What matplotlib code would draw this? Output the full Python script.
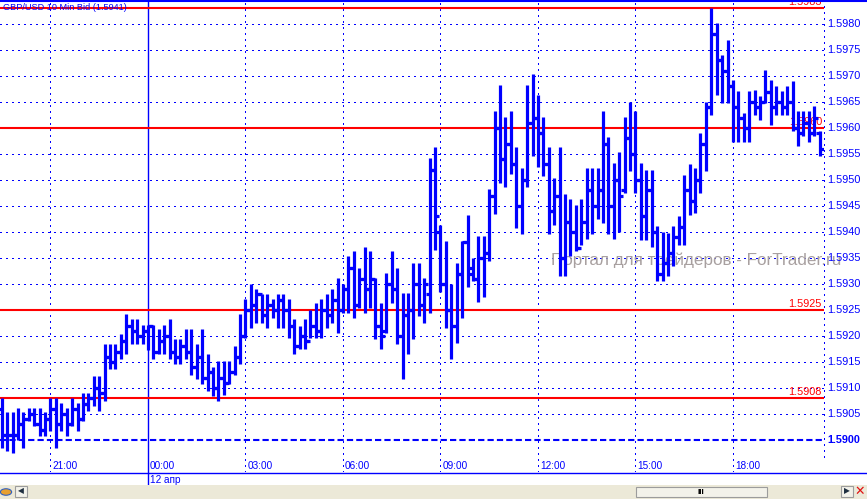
import numpy as np
import matplotlib
matplotlib.use("Agg")
import matplotlib.pyplot as plt
from matplotlib.lines import Line2D
from matplotlib.patches import Rectangle, Circle

plt.rcParams['font.family'] = ['Liberation Sans', 'DejaVu Sans']

# GBP/USD 10 min bars, 19:30 (11 apr) .. 20:40 (12 apr)
# values are pips above 1.5900
base = 1.5900
high_pips = [
    8.1, 5.3, 5.3, 6.2, 5.3, 6.2, 6.2, 6.2, 5.3, 8.1,
    8.1, 7.2, 6.2, 8.1, 7.2, 9.1, 9.1, 12.3, 12.3, 18.4,
    18.4, 18.4, 20.3, 24.2, 23.2, 23.2, 22.2, 22.2, 22.2, 21.3,
    22.2, 23.2, 19.4, 19.4, 21.3, 21.3, 18.4, 21.3, 16.5, 14.0,
    15.2, 15.2, 15.2, 18.1, 24.2, 27.2, 30.1, 29.1, 28.1, 28.1,
    27.2, 28.1, 28.1, 27.2, 23.2, 21.9, 23.2, 25.1, 26.3, 27.2,
    28.1, 29.1, 31.2, 30.0, 35.3, 36.3, 33.1, 37.2, 36.3, 31.2,
    26.3, 32.2, 36.3, 33.1, 28.2, 28.2, 34.1, 34.1, 31.2, 54.2,
    56.3, 41.4, 38.3, 30.1, 34.1, 38.3, 43.3, 35.1, 39.3, 39.3,
    48.2, 63.2, 68.3, 62.2, 63.2, 56.3, 52.3, 68.3, 70.3, 66.4,
    62.2, 56.3, 50.3, 56.3, 47.3, 46.3, 45.2, 46.3, 52.3, 52.3,
    52.3, 63.2, 58.2, 53.3, 55.3, 62.2, 65.1, 63.2, 53.3, 52.0,
    52.0, 41.1, 40.1, 39.8, 41.1, 43.0, 51.0, 53.0, 52.3, 59.0,
    65.1, 83.1, 80.2, 74.1, 77.0, 69.3, 67.1, 62.9, 67.1, 67.4,
    66.1, 71.2, 69.3, 68.0, 67.1, 68.0, 69.0, 63.2, 63.2, 63.2,
    64.2, 59.4,
]
low_pips = [
    -1.5, -2.1, -2.4, 0.1, -1.5, 3.7, 2.7, 0.8, 0.8, 1.7,
    -1.5, 1.7, 0.8, 2.7, 1.7, 3.7, 5.6, 6.5, 5.6, 7.5,
    13.6, 13.6, 15.5, 16.5, 18.4, 18.4, 18.4, 17.4, 15.5, 16.5,
    16.5, 15.5, 14.6, 14.6, 15.5, 12.6, 11.7, 10.7, 9.4, 8.5,
    7.6, 8.6, 10.7, 12.6, 14.6, 19.7, 21.6, 22.6, 22.6, 21.6,
    23.5, 21.6, 21.6, 19.7, 16.6, 17.6, 17.6, 19.7, 19.7, 19.7,
    21.6, 22.6, 20.6, 24.5, 24.5, 23.5, 25.4, 24.5, 25.4, 19.4,
    17.6, 20.6, 26.4, 18.4, 11.7, 16.6, 19.5, 23.9, 22.6, 24.5,
    36.6, 28.5, 21.6, 15.6, 18.6, 23.5, 29.5, 30.6, 26.5, 27.6,
    34.4, 43.4, 49.5, 48.6, 51.1, 40.7, 39.6, 48.6, 54.7, 52.5,
    50.7, 39.6, 41.4, 31.5, 31.5, 35.4, 36.4, 37.6, 38.6, 39.6,
    42.6, 41.8, 39.6, 38.6, 40.0, 47.5, 51.7, 47.5, 38.5, 38.5,
    37.2, 30.5, 30.5, 31.5, 33.4, 37.6, 37.6, 43.3, 43.7, 47.5,
    51.7, 62.6, 66.4, 64.8, 64.8, 57.4, 57.4, 57.4, 57.4, 62.6,
    61.6, 64.8, 60.6, 62.6, 62.6, 62.6, 59.4, 56.5, 58.4, 57.4,
    58.4, 54.6,
]
open_pips = [
    6, 1, 1, 1, 3, 4, 5, 3, 2, 4,
    6, 3, 5, 3, 6, 4, 7, 8, 10, 9,
    16, 15, 17, 19, 22, 21, 20, 21, 22, 17,
    19, 20, 17, 16, 18, 17, 14, 16, 12, 13,
    10, 12, 11, 13, 16, 20, 25, 26, 28, 24,
    26, 25, 27, 25, 22, 18, 20, 19, 22, 21,
    25, 24, 27, 25, 29, 33, 26, 31, 29, 31,
    22, 21, 30, 29, 20, 24, 25, 30, 26, 28,
    52, 40, 30, 25, 22, 32, 38, 33, 31, 35,
    36, 47, 60, 54, 57, 53, 45, 50, 61, 62,
    59, 53, 44, 47, 35, 42, 40, 37, 42, 48,
    45, 48, 57, 45, 50, 48, 58, 55, 50, 43,
    48, 40, 32, 34, 36, 39, 41, 48, 46, 50,
    57, 64, 78, 73, 71, 68, 64, 62, 60, 65,
    64, 65, 67, 64, 65, 64, 65, 60, 59, 61,
    59, 59,
]
close_pips = [
    1, 1, 1, 3, 4, 5, 3, 2, 4, 6,
    3, 5, 3, 6, 4, 7, 8, 10, 9, 16,
    15, 17, 19, 22, 21, 20, 21, 22, 17, 19,
    20, 17, 16, 18, 17, 14, 16, 12, 13, 10,
    12, 11, 13, 16, 20, 25, 26, 28, 24, 26,
    25, 27, 25, 22, 18, 20, 19, 22, 21, 25,
    24, 27, 25, 29, 33, 26, 31, 29, 31, 22,
    20, 30, 29, 20, 24, 25, 30, 26, 30, 52,
    43, 30, 25, 22, 32, 38, 32, 31, 35, 36,
    47, 60, 54, 57, 53, 45, 50, 61, 62, 59,
    53, 44, 47, 35, 42, 40, 37, 42, 48, 45,
    48, 57, 45, 50, 47, 58, 55, 50, 43, 48,
    40, 32, 34, 36, 39, 41, 48, 46, 50, 57,
    64, 78, 73, 71, 68, 64, 62, 60, 65, 64,
    65, 67, 64, 65, 64, 65, 60, 59, 61, 59,
    62, 56,
]

time_tick_bars = [9, 27, 45, 63, 81, 99, 117, 135]
time_tick_labels = ["21:00", "00:00", "03:00", "06:00", "09:00", "12:00", "15:00", "18:00"]
day_bar = 27
day_label = "12 апр"

price_ticks = [1.5905, 1.5910, 1.5915, 1.5920, 1.5925, 1.5930, 1.5935, 1.5940,
               1.5945, 1.5950, 1.5955, 1.5960, 1.5965, 1.5970, 1.5975, 1.5980]
red_levels = [1.5983, 1.5960, 1.5925, 1.5908]
title = "GBP/USD 10 Min Bid (1.5941)"
watermark = "Портал для трейдеров - ForTrader.ru"

hi = base + np.array(high_pips) / 10000
lo = base + np.array(low_pips) / 10000
op = base + np.array(open_pips) / 10000
cl = base + np.array(close_pips) / 10000
x = np.arange(len(hi))

BLUE = '#0000ff'
DOTS = (0, (1, 4))
W, H = 867, 499
fig = plt.figure(figsize=(W / 100, H / 100), dpi=100)
ax = fig.add_axes([0, (H - 472) / H, 824 / W, 472 / H])
ax.set_xlim(-0.32, 151.8)
ax.set_ylim(1.589385, 1.598462)
ax.axis('off')

# grid
for p in price_ticks:
    ax.axhline(p, color=BLUE, lw=0.8, ls=DOTS, zorder=1, antialiased=False)
    ax.text(1.004, p, f"{p:.4f}", transform=ax.get_yaxis_transform(),
            ha='left', va='center', fontsize=7.8, color=BLUE, clip_on=False)
ax.axhline(base, color=BLUE, lw=1.5, ls=(0, (3, 1.5)), zorder=1)
ax.text(1.004, base, f"{base:.4f}", transform=ax.get_yaxis_transform(),
        ha='left', va='center', fontsize=7.8, color=BLUE, fontweight='bold', clip_on=False)

for b, lab in zip(time_tick_bars, time_tick_labels):
    if b != day_bar:
        ax.axvline(b, color=BLUE, lw=0.8, ls=DOTS, zorder=1, antialiased=False)
    ax.text(b + 0.35, 1.58950, lab, ha='left', va='center', fontsize=7.2, color=BLUE)

# day separator goes down past the axis
ax.plot([day_bar, day_bar], [1, -13 / 472], transform=ax.get_xaxis_transform(),
        color=BLUE, lw=1, clip_on=False, zorder=2)
ax.text(day_bar + 0.35, -8 / 472, day_label, transform=ax.get_xaxis_transform(),
        ha='left', va='center', fontsize=7.2, color=BLUE, clip_on=False)

# right border (dotted)
ax.plot([1, 1], [1, (472 - 462) / 472], transform=ax.transAxes, color=BLUE,
        lw=0.8, ls=DOTS, clip_on=False, antialiased=False)

ax.text(551 / 824, 1 - 260 / 472, watermark, transform=ax.transAxes, ha='left',
        va='center', fontsize=12.3, color='#a8a0a0', zorder=1.5, clip_on=False)

# red levels
for lvl in red_levels:
    ax.axhline(lvl, color='#ff0000', lw=1.5, zorder=3)
    ax.text(822 / 824, lvl + 0.00002, f"{lvl:.4f}", transform=ax.get_yaxis_transform(),
            ha='right', va='bottom', fontsize=7.8, color='#ff0000', zorder=3, clip_on=False)

# ohlc bars
ax.vlines(x, lo, hi, colors=BLUE, lw=2.3, zorder=4)
ax.hlines(op, x - 0.75, x, colors=BLUE, lw=2.3, zorder=4)
ax.hlines(cl, x, x + 0.75, colors=BLUE, lw=2.3, zorder=4)

ax.text(3 / 824, 1 - 7 / 472, title, transform=ax.transAxes, ha='left', va='center',
        fontsize=6.6, color=BLUE)

# frame lines and scroll bar
fig.add_artist(Line2D([0, 1], [1 - 1 / H, 1 - 1 / H], transform=fig.transFigure, color=BLUE, lw=1.5))
fig.add_artist(Line2D([0, 1], [(H - 472.5) / H] * 2, transform=fig.transFigure, color=BLUE, lw=1))
fig.add_artist(Rectangle((0, 0), 1, 14 / H, transform=fig.transFigure, facecolor='#ece9d8', edgecolor='none'))
fig.add_artist(Rectangle((636 / W, 2 / H), 131 / W, 10 / H, transform=fig.transFigure,
                         facecolor='#f3f2ea', edgecolor='#9c9c9c', lw=0.8))
fig.text(701 / W, 7 / H, "III", ha='center', va='center', fontsize=6, fontweight='bold', color='black')
for bx, sym in [(15, "◀"), (841, "▶")]:
    fig.add_artist(Rectangle((bx / W, 2 / H), 12 / W, 11 / H, transform=fig.transFigure,
                             facecolor='#f3f2ea', edgecolor='#9c9c9c', lw=0.8))
    fig.text((bx + 6) / W, 7.5 / H, sym, ha='center', va='center', fontsize=5.5, color='#203040')
fig.text(860 / W, 7 / H, "✕", ha='center', va='center', fontsize=9, color='#e01010', fontweight='bold')
fig.add_artist(Circle((6 / W, 7 / H), 0.0065, transform=fig.transFigure, facecolor='#e8a030', edgecolor='#3060c0', lw=0.8))

fig.savefig('out.png', dpi=100)
